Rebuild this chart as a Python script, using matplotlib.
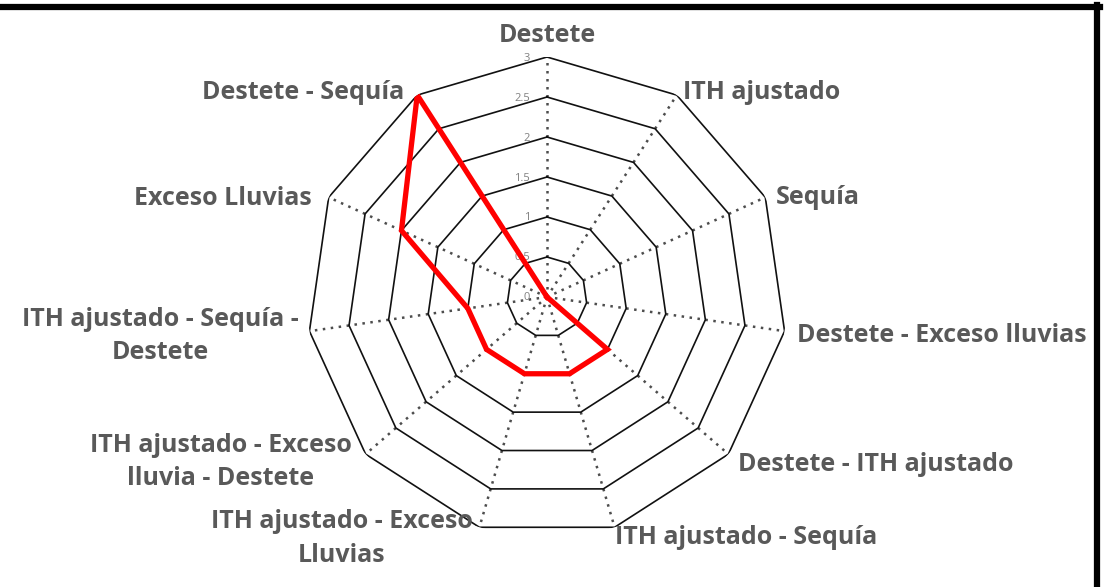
import numpy as np
import matplotlib
matplotlib.use("Agg")
import matplotlib.pyplot as plt
from matplotlib.lines import Line2D

CATEGORIES = [
    "Destete",
    "ITH ajustado",
    "Sequía",
    "Destete - Exceso lluvias",
    "Destete - ITH ajustado",
    "ITH ajustado - Sequía",
    "ITH ajustado - Exceso\nLluvias",
    "ITH ajustado - Exceso\nlluvia - Destete",
    "ITH ajustado - Sequía -\nDestete",
    "Exceso Lluvias",
    "Destete - Sequía",
]
VALUES = [0, 0, 0, 0, 1, 1, 1, 1, 1, 2, 3]
RINGS = [0.5, 1, 1.5, 2, 2.5, 3]
RING_LABELS = ["0", "0.5", "1", "1.5", "2", "2.5", "3"]

# label placement: offset (px) from outer vertex + alignment
LABEL_POS = [
    ((0, 22), "center", "center"),
    ((6, 3), "left", "center"),
    ((11, 0), "left", "center"),
    ((12, -4), "left", "center"),
    ((10, -10), "left", "center"),
    ((0, -10), "left", "center"),
    ((-7, -11), "right", "center"),
    ((-14, -8), "right", "center"),
    ((-11, -5), "right", "center"),
    ((-17, -1), "right", "center"),
    ((-13, 3), "right", "center"),
]

W, H = 1109, 587
fig = plt.figure(figsize=(W / 100, H / 100), dpi=100)
cx, cy, R = 547, 297, 240
ax = fig.add_axes([(cx - R) / W, (H - cy - R) / H, 2 * R / W, 2 * R / H], projection="polar")
ax.set_theta_zero_location("N")
ax.set_theta_direction(-1)
ax.set_ylim(0, 3)
ax.grid(False)
ax.spines["polar"].set_visible(False)
ax.set_xticks([])
ax.set_yticks([])
ax.patch.set_visible(False)

n = len(CATEGORIES)
theta = np.linspace(0, 2 * np.pi, n, endpoint=False)
closed = np.append(theta, theta[0])

# dotted spokes
for t in theta:
    ax.plot([t, t], [0, RINGS[-1]], color="#4d4d4d", lw=1.8, ls=(0, (1, 2.2)), zorder=1)

# polygon rings
for r in RINGS:
    ax.plot(closed, [r] * (n + 1), color="#111111", lw=1.2, zorder=2)

# ring value labels
for r, lab in zip([0] + RINGS, RING_LABELS):
    ax.annotate(lab, xy=(0, r), xytext=(-17, -1), textcoords="offset pixels",
                ha="right", va="center", fontsize=8, color="#808080",
                family="Open Sans", zorder=3)

# data series
ax.plot(closed, VALUES + VALUES[:1], color="#ff0000", lw=3.8, zorder=4,
        solid_joinstyle="miter")

# category labels
for t, lab, (off, ha, va) in zip(theta, CATEGORIES, LABEL_POS):
    ax.annotate(lab, xy=(t, RINGS[-1]), xytext=off, textcoords="offset pixels",
                ha=ha, va=va, multialignment="center", fontsize=18,
                fontweight="bold", color="#595959", family="Open Sans",
                linespacing=1.45, annotation_clip=False)

# chart frame (top and right edges only)
fig.add_artist(Line2D([0, 1099.5 / W], [1 - 7 / H, 1 - 7 / H], transform=fig.transFigure,
                      color="black", lw=4.5))
fig.add_artist(Line2D([1096.5 / W, 1096.5 / W], [0, 1 - 4.5 / H], transform=fig.transFigure,
                      color="black", lw=4.5))

fig.savefig("out.png", dpi=100)
